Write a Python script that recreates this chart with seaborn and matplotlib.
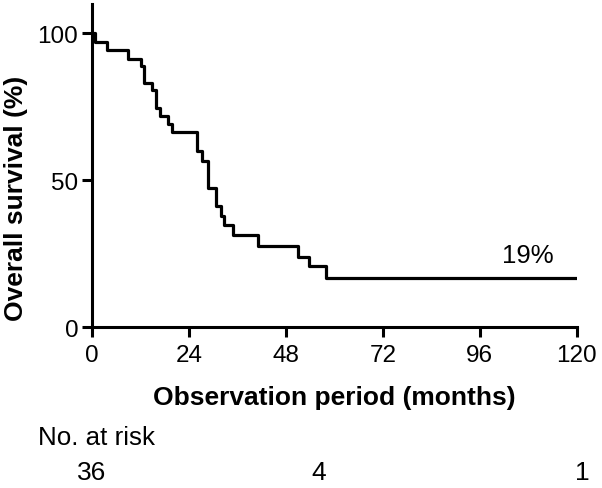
import matplotlib
matplotlib.use("Agg")
import matplotlib.pyplot as plt
import matplotlib.transforms as mtransforms
import pandas as pd
import seaborn as sns

# Kaplan-Meier steps (months, % surviving)
months = [0, 0.7, 3.8, 9.0, 12.1, 12.9, 14.8, 15.9, 16.9, 18.9, 19.9, 25.9, 27.2,
          28.6, 30.8, 31.9, 32.7, 34.8, 41.0, 50.9, 53.8, 57.9, 120]
survival = [100, 96.9, 94.2, 91.4, 88.9, 83.2, 80.7, 74.7, 71.9, 69.0, 66.4, 60.0, 56.6,
            47.5, 41.3, 37.9, 34.7, 31.3, 27.7, 24.0, 20.9, 16.6, 16.6]

x_ticks = [0, 24, 48, 72, 96, 120]
y_ticks = [0, 50, 100]

risk_months = [0, 56, 121.5]
risk_counts = ["36", "4", "1"]

df = pd.DataFrame({"months": months, "survival": survival})

sns.set_style("ticks")
plt.rcParams["font.family"] = ["Liberation Sans", "DejaVu Sans"]
plt.rcParams["text.color"] = "black"
plt.rcParams["axes.labelcolor"] = "black"
plt.rcParams["xtick.color"] = "black"
plt.rcParams["ytick.color"] = "black"

fig = plt.figure(figsize=(6.02, 4.89), dpi=100)
ax = fig.add_axes([0.153, 0.329, 0.805, 0.661])

sns.lineplot(data=df, x="months", y="survival", ax=ax, color="black",
             linewidth=2.3, drawstyle="steps-post", estimator=None, sort=False)

ax.set_xlim(0, 120)
ax.set_ylim(0, 110)
ax.set_xticks(x_ticks)
ax.set_yticks(y_ticks)
ax.tick_params(axis="both", labelsize=17.5, length=7, width=2.2, color="black",
               labelcolor="black")
ax.tick_params(axis="x", pad=5)
ax.tick_params(axis="y", pad=3)
for side in ["left", "bottom"]:
    ax.spines[side].set_linewidth(2.2)
    ax.spines[side].set_color("black")
sns.despine(ax=ax)

ax.set_xlabel("Observation period (months)", fontsize=19, fontweight="bold",
              labelpad=14, color="black")
ax.set_ylabel("Overall survival (%)", fontsize=19, fontweight="bold", color="black")
ax.yaxis.set_label_coords(-0.132, 0.40)

ax.text(108, 24.5, "19%", fontsize=18.5, ha="center", va="center", color="black")

fig.text(0.063, 0.104, "No. at risk", fontsize=18.7, ha="left", va="center", color="black")
trans = mtransforms.blended_transform_factory(ax.transData, fig.transFigure)
for m, n in zip(risk_months, risk_counts):
    ax.text(m, 0.033, n, fontsize=19, ha="center", va="center", transform=trans,
            color="black")

fig.savefig("out.png", dpi=100)
